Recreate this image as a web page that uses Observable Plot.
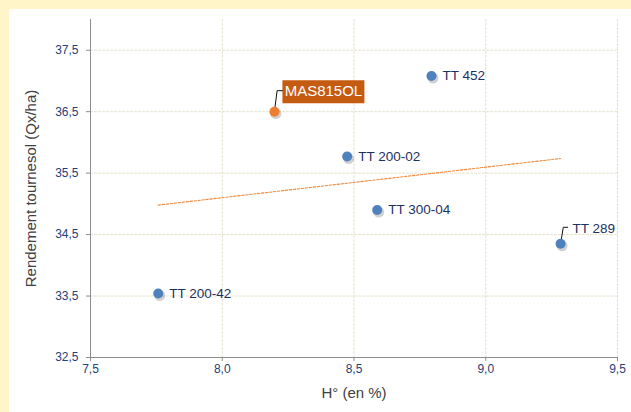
<!DOCTYPE html>
<html><head><meta charset="utf-8">
<script src="https://cdn.jsdelivr.net/npm/d3@7"></script>
<script src="https://cdn.jsdelivr.net/npm/@observablehq/plot@0.6"></script>
<style>
html,body{margin:0;padding:0;background:#fff5c9;width:631px;height:412px;overflow:hidden}
#chart{position:absolute;left:9px;top:9px;width:622px;height:403px;background:#fff}
</style></head><body><div id="chart"></div>
<script>
const varieties = ["TT 200-42", "MAS815OL", "TT 200-02", "TT 452", "TT 300-04", "TT 289"];
const humidity = [7.757, 8.198, 8.474, 8.794, 8.588, 9.284];
const yieldQx = [33.54, 36.50, 35.77, 37.08, 34.90, 34.35];
const highlight = "MAS815OL";
const leaderLabel = "TT 289";
const xTicks = [7.5, 8.0, 8.5, 9.0, 9.5];
const yTicks = [32.5, 33.5, 34.5, 35.5, 36.5, 37.5];
const xLabel = "H° (en %)";
const yLabel = "Rendement tournesol (Qx/ha)";

const data = varieties.map((name, i) => ({name, x: humidity[i], y: yieldQx[i]}));
const fmt = d => d.toFixed(1).replace(".", ",");
const font = "'Liberation Sans', Arial, sans-serif";
const navy = "#1b3163";

const plain = data.filter(d => d.name !== highlight && d.name !== leaderLabel);
const hi = data.filter(d => d.name === highlight);
const lead = data.filter(d => d.name === leaderLabel);

const hiLeader = {draw(ctx) { ctx.moveTo(0, 0); ctx.lineTo(2.7, -21); ctx.lineTo(8, -21); }};
const hiBox = {draw(ctx) { ctx.rect(8, -31.5, 82, 23); }};
const ttLeader = {draw(ctx) { ctx.moveTo(0, 0); ctx.lineTo(2.7, -16.5); ctx.lineTo(7, -16.5); }};

const chart = Plot.plot({
  width: 622, height: 403,
  marginLeft: 81, marginRight: 14, marginTop: 10, marginBottom: 55,
  style: {background: "#fff", fontFamily: font},
  x: {domain: [7.5, 9.5], label: null},
  y: {domain: [32.5, 38], label: null},
  marks: [
    Plot.gridX(xTicks.slice(1), {stroke: "#e4e1d0", strokeOpacity: 1, strokeDasharray: "3,1"}),
    Plot.gridY(yTicks.slice(1), {stroke: "#e4e1d0", strokeOpacity: 1, strokeDasharray: "3,1"}),
    Plot.ruleX([7.5], {stroke: "#8c8c8c"}),
    Plot.ruleY([32.5], {stroke: "#8c8c8c"}),
    Plot.axisX(xTicks, {tickSize: 4, tickPadding: 3, stroke: "#8c8c8c", fill: "#24407a", fontSize: 12, tickFormat: fmt, label: null}),
    Plot.axisY(yTicks, {tickSize: 4, tickPadding: 8, stroke: "#8c8c8c", fill: "#24407a", fontSize: 12, tickFormat: fmt, label: null}),
    Plot.text([xLabel], {frameAnchor: "bottom", dy: 40, fontSize: 15, fill: "#404040"}),
    Plot.text([yLabel], {frameAnchor: "left", textAnchor: "middle", rotate: -90, dx: -59, fontSize: 15, fill: "#404040"}),
    Plot.linearRegressionY(data, {x: "x", y: "y", stroke: "#ef8a3c", strokeWidth: 1.1, strokeDasharray: "2.5,1.5", ci: 0}),
    Plot.vector(hi, {x: "x", y: "y", anchor: "start", length: 1, shape: hiBox, fill: "#c55a11", stroke: "none"}),
    Plot.vector(hi, {x: "x", y: "y", anchor: "start", length: 1, shape: hiLeader, stroke: "#111", strokeWidth: 1}),
    Plot.vector(lead, {x: "x", y: "y", anchor: "start", length: 1, shape: ttLeader, stroke: "#111", strokeWidth: 1}),
    Plot.dot(data, {x: "x", y: "y", r: 5.5, fill: "#000", fillOpacity: 0.18, dx: 1.5, dy: 2}),
    Plot.dot(data.filter(d => d.name !== highlight), {x: "x", y: "y", r: 5, fill: "#4f81bd"}),
    Plot.dot(hi, {x: "x", y: "y", r: 5, fill: "#ed7d31"}),
    Plot.text(plain, {x: "x", y: "y", text: "name", textAnchor: "start", dx: 11, fontSize: 13.5, fill: navy}),
    Plot.text(lead, {x: "x", y: "y", text: "name", textAnchor: "start", dx: 12, dy: -15, fontSize: 13.5, fill: navy}),
    Plot.text(hi, {x: "x", y: "y", text: "name", textAnchor: "middle", dx: 49, dy: -20, fontSize: 15, fill: "#fff"})
  ]
});
document.getElementById("chart").appendChild(chart);
</script></body></html>
